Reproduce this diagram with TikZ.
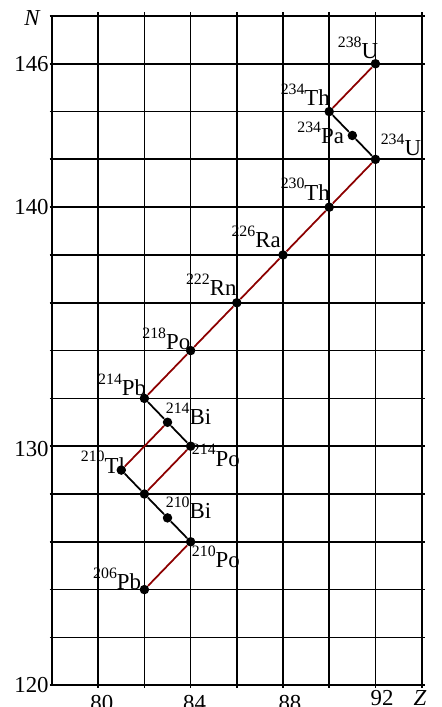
\documentclass[tikz,border=0pt]{standalone}
\usepackage{fontspec}
\setmainfont{Liberation Serif}
\usetikzlibrary{positioning}
\definecolor{alphared}{RGB}{140,0,0}
\newcommand{\nuclide}[2]{\raisebox{6.4pt}{\fontsize{9}{10}\selectfont #1}#2}

\begin{document}
\begin{tikzpicture}[
    x=0.462cm, y=0.478cm,
    gridline/.style={line width=1pt, black},
    nuc/.style={circle, fill=black, inner sep=0pt, minimum size=0.19cm},
    lbl/.style={inner sep=0pt, font=\fontsize{13}{15}\selectfont},
    tick/.style={inner sep=0pt, font=\fontsize{13}{15}\selectfont},
    alphadecay/.style={line width=1pt, alphared},
    betadecay/.style={line width=1pt, black}
]
\useasboundingbox (75.75,119.09) rectangle (94.84,148.67);

% grid
\foreach \z in {80,82,...,94}
    \draw[gridline] (\z,119.9) -- (\z,148.17);
\draw[gridline] (78,120) -- (78,148);
\foreach \n in {120,122,...,148}
    \draw[gridline] (77.9,\n) -- (94.15,\n);

% axis labels
\node[tick, anchor=base east] (nlabel) at (77.52,147.58) {\textit{N}};
\node[tick, anchor=east] (n146) at (77.87,146) {146};
\node[tick, anchor=east] (n140) at (77.87,140) {140};
\node[tick, anchor=east] (n130) at (77.87,129.9) {130};
\node[tick, anchor=east] (n120) at (77.87,120) {120};
\node[tick, anchor=base] (z80) at (80.16,118.96) {80};
\node[tick, anchor=base] (z84) at (84.17,118.96) {84};
\node[tick, anchor=base] (z88) at (88.3,118.96) {88};
\node[tick, anchor=base] (z92) at (92.29,119.16) {92};
\node[tick, anchor=base] (zlabel) at (93.93,119.16) {\textit{Z}};

% nuclides
\node[nuc] (U238) at (92,146) {};
\node[nuc] (Th234) at (90,144) {};
\node[nuc] (Pa234) at (91,143) {};
\node[nuc] (U234) at (92,142) {};
\node[nuc] (Th230) at (90,140) {};
\node[nuc] (Ra226) at (88,138) {};
\node[nuc] (Rn222) at (86,136) {};
\node[nuc] (Po218) at (84,134) {};
\node[nuc] (Pb214) at (82,132) {};
\node[nuc] (Bi214) at (83,131) {};
\node[nuc] (Po214) at (84,130) {};
\node[nuc] (Tl210) at (81,129) {};
\node[nuc] (Pb210) at (82,128) {};
\node[nuc] (Bi210) at (83,127) {};
\node[nuc] (Po210) at (84,126) {};
\node[nuc] (Pb206) at (82,124) {};

% names
\node[lbl, anchor=base east, xshift=0.06cm, yshift=0.10cm] (U238l) at (U238.center) {\nuclide{238}{U}};
\node[lbl, anchor=base east, xshift=0.02cm, yshift=0.12cm] (Th234l) at (Th234.center) {\nuclide{234}{Th}};
\node[lbl, anchor=base east, xshift=-0.16cm, yshift=-0.16cm] (Pa234l) at (Pa234.center) {\nuclide{234}{Pa}};
\node[lbl, anchor=base west, xshift=0.10cm, yshift=0.08cm] (U234l) at (U234.center) {\nuclide{234}{U}};
\node[lbl, anchor=base east, xshift=0.02cm, yshift=0.14cm] (Th230l) at (Th230.center) {\nuclide{230}{Th}};
\node[lbl, anchor=base east, xshift=-0.04cm, yshift=0.14cm] (Ra226l) at (Ra226.center) {\nuclide{226}{Ra}};
\node[lbl, anchor=base east, yshift=0.14cm] (Rn222l) at (Rn222.center) {\nuclide{222}{Rn}};
\node[lbl, anchor=base east, yshift=0.02cm] (Po218l) at (Po218.center) {\nuclide{218}{Po}};
\node[lbl, anchor=base east, xshift=0.04cm, yshift=0.06cm] (Pb214l) at (Pb214.center) {\nuclide{214}{Pb}};
\node[lbl, anchor=base west, xshift=-0.04cm, yshift=-0.04cm] (Bi214l) at (Bi214.center) {\nuclide{214}{Bi}};
\node[lbl, anchor=base west, xshift=0.02cm, yshift=-0.40cm] (Po214l) at (Po214.center) {\nuclide{214}{Po}};
\node[lbl, anchor=base east, xshift=0.08cm, yshift=-0.06cm] (Tl210l) at (Tl210.center) {\nuclide{210}{Tl}};
\node[lbl, anchor=base west, xshift=-0.04cm, yshift=-0.02cm] (Bi210l) at (Bi210.center) {\nuclide{210}{Bi}};
\node[lbl, anchor=base west, xshift=0.02cm, yshift=-0.52cm] (Po210l) at (Po210.center) {\nuclide{210}{Po}};
\node[lbl, anchor=base east, xshift=-0.06cm] (Pb206l) at (Pb206.center) {\nuclide{206}{Pb}};

% decays
\draw[alphadecay] (U238) -- (Th234);
\draw[betadecay] (Th234) -- (Pa234) -- (U234);
\draw[alphadecay] (U234) -- (Th230) -- (Ra226) -- (Rn222) -- (Po218) -- (Pb214);
\draw[betadecay] (Pb214) -- (Bi214) -- (Po214);
\draw[alphadecay] (Bi214) -- (Tl210);
\draw[alphadecay] (Po214) -- (Pb210);
\draw[betadecay] (Tl210) -- (Pb210) -- (Bi210) -- (Po210);
\draw[alphadecay] (Po210) -- (Pb206);

\end{tikzpicture}
\end{document}
